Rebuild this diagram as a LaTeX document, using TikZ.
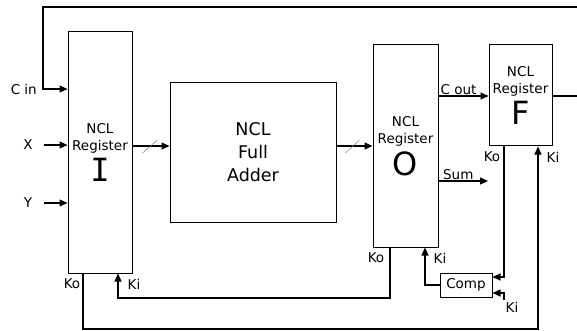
\documentclass[tikz,border=0pt]{standalone}
\usepackage{fontspec}
\setmainfont{DejaVu Sans}
\newfontfamily\serifI{DejaVu Sans Mono}
\usetikzlibrary{arrows.meta, calc, positioning}

\newcommand{\bigletter}[1]{{\fontsize{32}{34}\selectfont #1}}

\tikzset{
  reg/.style={draw, line width=1pt, align=center, inner sep=0pt,
    font=\fontsize{13.5}{17}\selectfont},
  arr/.style={-{Triangle[length=8pt,width=7pt]}, line width=1.1pt},
  wire/.style={line width=1.1pt},
  slash/.style={line width=0.5pt, gray},
  lbl/.style={font=\fontsize{13.5}{15}\selectfont, inner sep=1pt}
}

\begin{document}
\begin{tikzpicture}[x=1pt, y=-1pt]
\useasboundingbox (0,0) rectangle (577,331);

% Blocks
\node[reg, minimum width=64pt, minimum height=241pt] (regI) at (100,152.5)
  {NCL\\Register\\[4pt]{\serifI\bigletter{I}}};
\node[reg, minimum width=166pt, minimum height=139pt,
  font=\fontsize{17.5}{23}\selectfont] (adder) at (253,152.5)
  {NCL\\Full\\Adder};
\node[reg, minimum width=65pt, minimum height=202pt] (regO) at (405.5,146)
  {NCL\\Register\\[4pt]\bigletter{O}};
\node[reg, minimum width=63pt, minimum height=101pt] (regF) at (520.5,95.5)
  {NCL\\Register\\[4pt]\bigletter{F}};
\node[reg, minimum width=52pt, minimum height=24pt] (comp) at (466,285) {Comp};

% Helper coordinates
\coordinate (fbR) at (577,7);
\coordinate (cin) at (43,89);
\coordinate (xin) at (44,145);
\coordinate (yin) at (44,203);
\coordinate (bus) at (0,146);
\coordinate (cout) at (0,96);
\coordinate (sumEnd) at (488,181);
\coordinate (fout) at (577,96);
\coordinate (rail1) at (83,329);
\coordinate (rail1r) at (538,329);
\coordinate (rail2) at (118,298);
\coordinate (rail2r) at (390,298);
\coordinate (kiO) at (425,0);
\coordinate (koF) at (504,277);
\coordinate (kiC) at (504,293);

% ---- Inputs ----
\draw[arr] (fbR) -| (cin) -- (regI.west |- cin);
\node[lbl, anchor=east] at (38,89) {C in};
\draw[arr] (xin) -- (regI.west |- xin);
\node[lbl] at (28,145) {X};
\draw[arr] (yin) -- (regI.west |- yin);
\node[lbl] at (28,203) {Y};

% ---- Data path ----
\draw[arr] (regI.east |- bus) -- (adder.west |- bus);
\draw[slash] ($(regI.east |- bus)+(10,7)$) -- ++(15,-13);
\draw[arr] (adder.east |- bus) -- (regO.west |- bus);
\draw[slash] ($(adder.east |- bus)+(9,7)$) -- ++(14,-13);
\draw[arr] (regO.east |- cout) -- node[lbl, above, pos=0.4] {C out} (regF.west |- cout);
\draw[arr] (regO.east |- sumEnd) -- node[lbl, above, pos=0.4] {Sum} (sumEnd);
\draw[wire] (regF.east |- fout) -- (fout);

% ---- Handshake ----
\draw[arr] (regI.south -| rail1) |- (rail1r) -- (regF.south -| rail1r);
\draw[arr] (regO.south -| rail2r) |- (rail2) -- (regI.south -| rail2);
\draw[arr] (comp.west) -| (regO.south -| kiO);
\draw[arr] (regF.south -| koF) |- (comp.east |- koF);
\draw[arr] ($(kiC)+(0,7)$) -- (kiC) -- (comp.east |- kiC);

\node[lbl] at (72,284) {Ko};
\node[lbl] at (134,284) {Ki};
\node[lbl] at (376,258) {Ko};
\node[lbl] at (440,258) {Ki};
\node[lbl] at (492,157) {Ko};
\node[lbl] at (553,157) {Ki};
\node[lbl] at (512,307) {Ki};

\end{tikzpicture}
\end{document}
